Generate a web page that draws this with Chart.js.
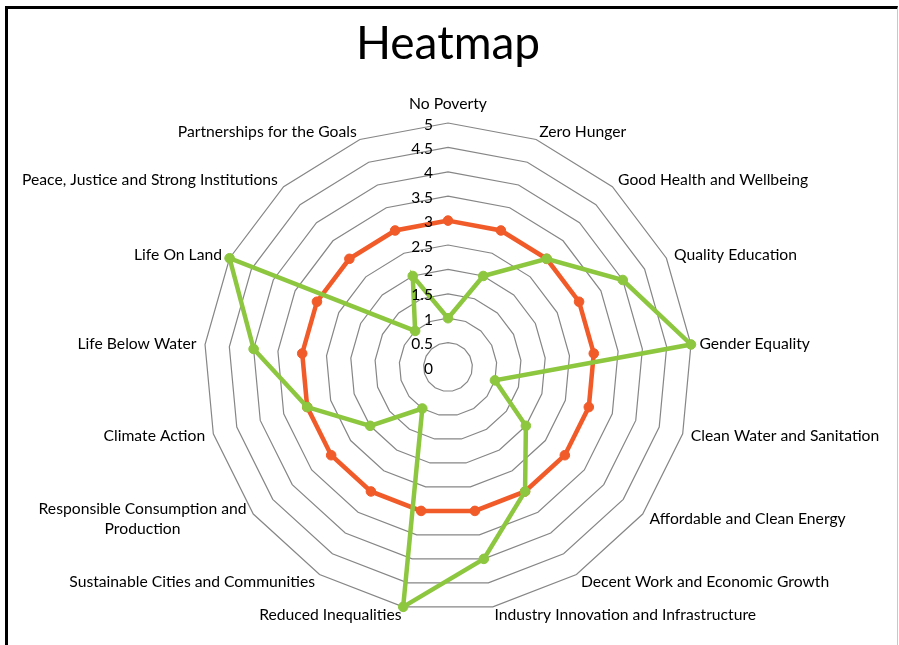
<!DOCTYPE html>
<html>
<head>
<meta charset="utf-8">
<script src="https://cdn.jsdelivr.net/npm/chart.js@4.4.1/dist/chart.umd.min.js"></script>
<style>
  html, body { margin: 0; padding: 0; background: #ffffff; }
  #wrap { position: relative; width: 899px; height: 645px; overflow: hidden; background: #fff; }
  #c { position: absolute; left: 0; top: 0; }
  #frame { position: absolute; left: 5px; top: 6px; width: 889px; height: 700px;
           border-top: 3px solid #000; border-left: 3px solid #000; border-right: 1px solid #c8c8c8;
           pointer-events: none; }
</style>
</head>
<body>
<div id="wrap">
  <canvas id="c" width="899" height="645"></canvas>
  <div id="frame"></div>
</div>
<script>
// ---- data ----
const categories = [
  "No Poverty",
  "Zero Hunger",
  "Good Health and Wellbeing",
  "Quality Education",
  "Gender Equality",
  "Clean Water and Sanitation",
  "Affordable and Clean Energy",
  "Decent Work and Economic Growth",
  "Industry Innovation and Infrastructure",
  "Reduced Inequalities",
  "Sustainable Cities and Communities",
  ["Responsible Consumption and", "Production"],
  "Climate Action",
  "Life Below Water",
  "Life On Land",
  "Peace, Justice and Strong Institutions",
  "Partnerships for the Goals"
];
const seriesOrange = [3, 3, 3, 3, 3, 3, 3, 3, 3, 3, 3, 3, 3, 3, 3, 3, 3];
const seriesGreen  = [1, 2, 3, 4, 5, 1, 2, 3, 4, 5, 1, 2, 3, 4, 5, 1, 2];
const scaleMin = 0;
const scaleMax = 5;
const scaleStep = 0.5;
const chartTitle = "Heatmap";

const FONT = "Lato, 'Open Sans', 'DejaVu Sans', sans-serif";
const ORANGE = "#F15A29";
const GREEN = "#8DC63F";

const labelPlugin = {
  id: 'excelLabels',
  afterDraw(chart) {
    const s = chart.scales.r;
    const ctx = chart.ctx;
    ctx.save();
    ctx.fillStyle = '#000';
    // point labels
    ctx.font = "15.7px " + FONT;
    const n = chart.data.labels.length;
    chart.data.labels.forEach((lab, i) => {
      const p = s.getPointPosition(i, s.drawingArea + 8.5);
      const a = i * 2 * Math.PI / n;
      const sx = Math.sin(a), cy = Math.cos(a);
      const lines = Array.isArray(lab) ? lab : [lab];
      const lh = 20;
      const widths = lines.map(l => ctx.measureText(l).width);
      const maxW = Math.max(...widths);
      let cx;
      if (Math.abs(sx) < 0.05) cx = p.x;
      else if (sx > 0) cx = p.x + maxW / 2;
      else cx = p.x - maxW / 2;
      let cyMid = p.y;
      if (Math.abs(sx) < 0.05 && cy > 0) cyMid = p.y - 11;
      ctx.textAlign = 'center';
      ctx.textBaseline = 'middle';
      lines.forEach((l, k) => {
        const y = cyMid + (k - (lines.length - 1) / 2) * lh;
        ctx.fillText(l, cx, y);
      });
    });
    // tick labels
    ctx.font = "15.5px " + FONT;
    ctx.textAlign = 'right';
    ctx.textBaseline = 'middle';
    s.ticks.forEach(t => {
      const d = s.getDistanceFromCenterForValue(t.value);
      const p = s.getPointPosition(0, d);
      ctx.fillText(String(t.value), s.xCenter - 15, p.y + 1.5);
    });
    ctx.restore();
  }
};

new Chart(document.getElementById('c'), {
  type: 'radar',
  data: {
    labels: categories,
    datasets: [
      {
        label: 'Series 1',
        data: seriesOrange,
        borderColor: ORANGE,
        backgroundColor: ORANGE,
        pointBackgroundColor: ORANGE,
        pointBorderColor: ORANGE,
        borderWidth: 4.5,
        pointRadius: 4.8,
        pointBorderWidth: 1,
        fill: false,
        order: 1
      },
      {
        label: 'Series 2',
        data: seriesGreen,
        borderColor: GREEN,
        backgroundColor: GREEN,
        pointBackgroundColor: GREEN,
        pointBorderColor: GREEN,
        borderWidth: 4.5,
        pointRadius: 4.8,
        pointBorderWidth: 1,
        fill: false,
        order: 0
      }
    ]
  },
  options: {
    responsive: false,
    animation: false,
    devicePixelRatio: 1,
    layout: { padding: { left: 203, right: 206, top: 0, bottom: 33 } },
    plugins: {
      legend: { display: false },
      tooltip: { enabled: false },
      title: {
        display: true,
        text: chartTitle,
        color: '#000',
        font: { family: FONT, size: 46, weight: 'normal' },
        padding: { top: 17, bottom: 50 }
      }
    },
    scales: {
      r: {
        min: scaleMin,
        max: scaleMax,
        beginAtZero: true,
        ticks: { stepSize: scaleStep, display: false },
        pointLabels: { display: false },
        angleLines: { display: false },
        grid: { color: '#868686', lineWidth: 1.2, circular: false }
      }
    }
  },
  plugins: [labelPlugin]
});
</script>
</body>
</html>
